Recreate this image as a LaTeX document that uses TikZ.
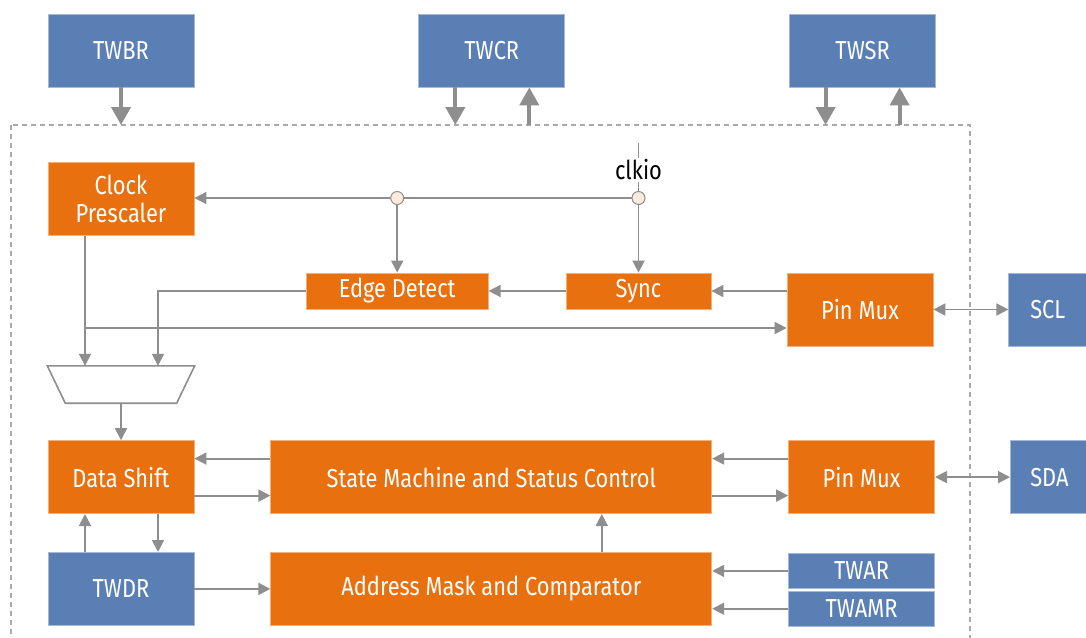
\documentclass[tikz,border=0pt]{standalone}
\usepackage{fontspec}
\setsansfont[FakeStretch=0.84]{Fira Sans}
\usetikzlibrary{positioning, arrows.meta, calc}
\definecolor{clrreg}{HTML}{5A7FB4}
\definecolor{clrunit}{HTML}{E9700F}
\definecolor{clrwire}{HTML}{8E8E8E}
\definecolor{clrframe}{HTML}{AAAAAA}
\definecolor{clrjoint}{HTML}{FDEBDD}

\begin{document}
\begin{tikzpicture}[
    x=1pt, y=-1pt,
    every node/.style={font=\sffamily\fontsize{26}{28}\selectfont},
    block/.style={line width=0.8pt, minimum width=146pt, minimum height=73pt,
                  inner sep=0pt, text=white, align=center},
    reg/.style={block, fill=clrreg, draw=clrreg!55!white},
    unit/.style={block, fill=clrunit, draw=clrunit!55!white},
    arrow/.style={-{Triangle[length=12pt,width=12pt]}, draw=clrwire, line width=1.8pt},
    biarrow/.style={{Triangle[length=12pt,width=12pt]}-{Triangle[length=12pt,width=12pt]}, draw=clrwire, line width=1.8pt},
    bus/.style={-{Triangle[length=18pt,width=19pt]}, draw=clrwire, line width=4pt},
    wire/.style={draw=clrwire, line width=1.8pt},
    muxline/.style={draw=clrwire, line width=1.6pt, fill=white},
    framebox/.style={draw=clrframe, line width=1.3pt, dash pattern=on 5pt off 4pt},
    joint/.style={circle, draw=clrwire, fill=clrjoint, line width=1pt, minimum size=13pt, inner sep=0pt},
]
\useasboundingbox (0,0) rectangle (1086,637);
\coordinate (f_nw) at (11,125);
\coordinate (f_se) at (970,650);
\draw[framebox] (f_nw) rectangle (f_se);
\node[reg] (n_twbr) at (121,50.5) {TWBR};
\node[reg, right=224pt of n_twbr] (n_twcr) {TWCR};
\node[reg, right=224pt of n_twcr] (n_twsr) {TWSR};
\node[unit, below=75pt of n_twbr] (n_clkpre) {Clock\\Prescaler};
\node[unit, minimum width=145pt, minimum height=36pt] (n_sync) at (638.5,291) {Sync};
\node[unit, minimum width=182pt, minimum height=36pt, left=77pt of n_sync] (n_edge) {Edge Detect};
\node[unit] (n_pm1) at (860,309.5) {Pin Mux};
\node[reg, minimum width=78pt, right=75pt of n_pm1] (n_scl) {SCL};
\node[minimum width=147pt, minimum height=37pt, inner sep=0pt] (n_mux) at (121,384.5) {};
\node[unit, below=37pt of n_mux] (n_data) {Data Shift};
\node[unit, minimum width=441pt, right=76pt of n_data] (n_sm) {State Machine and Status Control};
\node[unit, right=76pt of n_sm] (n_pm2) {Pin Mux};
\node[reg, minimum width=78pt, right=75pt of n_pm2] (n_sda) {SDA};
\node[reg, below=38pt of n_data] (n_twdr) {TWDR};
\node[unit, minimum width=441pt, right=76pt of n_twdr] (n_addr) {Address Mask and Comparator};
\node[reg, minimum height=35pt, anchor=north west] (n_twar) at ([xshift=76pt,yshift=-1pt]n_addr.north east) {TWAR};
\node[reg, minimum height=35pt, below=2pt of n_twar] (n_twamr) {TWAMR};
\node[joint] (n_j1) at (638.5,198) {};
\node[joint] (n_j2) at (n_edge.north |- n_j1) {};
\node[text=black, inner sep=2pt] (n_clkio) at (638.5,170) {clkio};
\coordinate (c_clk) at (638.5,143);
\coordinate (c_tap) at (85,328);
\draw[bus] (n_twbr.south) -- (n_twbr.south |- f_nw);
\draw[bus] ([xshift=-36.5pt]n_twcr.south) -- ([xshift=-36.5pt]n_twcr.south |- f_nw);
\draw[bus] ([xshift=37.5pt]n_twcr.south |- f_nw) -- ([xshift=37.5pt]n_twcr.south);
\draw[bus] ([xshift=-37pt]n_twsr.south) -- ([xshift=-37pt]n_twsr.south |- f_nw);
\draw[bus] ([xshift=37pt]n_twsr.south |- f_nw) -- ([xshift=37pt]n_twsr.south);
\draw[wire] (c_clk) -- (n_clkio.north);
\draw[wire] (n_clkio.south) -- (n_j1.north);
\draw[wire] (n_j1.west) -- (n_j2.east);
\draw[arrow] (n_j2.west) -- (n_j2 -| n_clkpre.east);
\draw[arrow] (n_j1.south) -- (n_sync.north);
\draw[arrow] (n_j2.south) -- (n_edge.north);
\draw[arrow] (n_pm1.west |- n_sync) -- (n_sync.east);
\draw[arrow] (n_sync.west) -- (n_edge.east);
\draw[arrow] (n_edge.west) -| ([xshift=37pt]n_mux.north);
\draw[arrow] (c_tap |- n_clkpre.south) -- (c_tap |- n_mux.north);
\draw[arrow] (c_tap) -- (c_tap -| n_pm1.west);
\draw[muxline] (n_mux.north west) -- (n_mux.north east) -- ([xshift=-18pt]n_mux.south east) -- ([xshift=18pt]n_mux.south west) -- cycle;
\draw[arrow] (n_mux.south) -- (n_data.north);
\draw[arrow] ([yshift=18.5pt]n_sm.west) -- ([yshift=18.5pt]n_data.east);
\draw[arrow] ([yshift=-18.5pt]n_data.east) -- ([yshift=-18.5pt]n_sm.west);
\draw[arrow] ([yshift=18.5pt]n_pm2.west) -- ([yshift=18.5pt]n_sm.east);
\draw[arrow] ([yshift=-18.5pt]n_sm.east) -- ([yshift=-18.5pt]n_pm2.west);
\draw[biarrow] (n_pm1.east) -- (n_scl.west);
\draw[biarrow] (n_pm2.east) -- (n_sda.west);
\draw[arrow] ([xshift=-36pt]n_twdr.north) -- ([xshift=-36pt]n_data.south);
\draw[arrow] ([xshift=37pt]n_data.south) -- ([xshift=37pt]n_twdr.north);
\draw[arrow] (n_twdr.east) -- (n_addr.west);
\draw[arrow] ([xshift=110.5pt]n_addr.north) -- ([xshift=110.5pt]n_sm.south);
\draw[arrow] (n_twar.west) -- (n_twar.west -| n_addr.east);
\draw[arrow] (n_twamr.west) -- (n_twamr.west -| n_addr.east);
\end{tikzpicture}
\end{document}
